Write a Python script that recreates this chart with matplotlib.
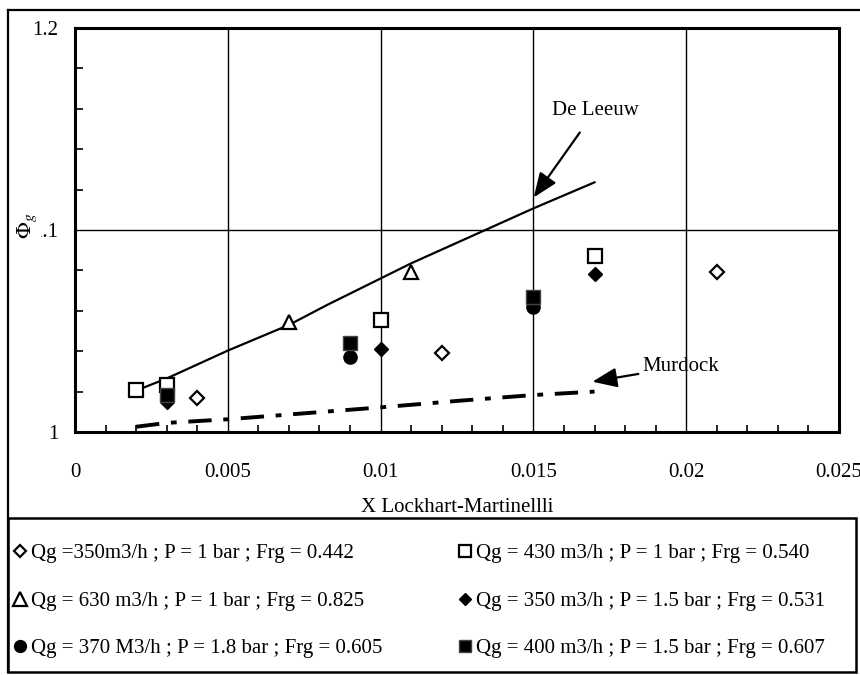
import matplotlib
matplotlib.use("Agg")
import matplotlib.pyplot as plt
from matplotlib.lines import Line2D
from matplotlib.patches import Rectangle
from matplotlib.ticker import MultipleLocator

plt.rcParams['font.family'] = ['Liberation Serif', 'DejaVu Serif']
plt.rcParams['mathtext.fontset'] = 'stix'

# ---------------- data ----------------
s1_x = [0.004, 0.012, 0.021]
s1_y = [1.0170, 1.0393, 1.0794]
s1_label = "Qg =350m3/h ; P = 1 bar ; Frg = 0.442"

s2_x = [0.002, 0.003, 0.010, 0.017]
s2_y = [1.0208, 1.0233, 1.0554, 1.0871]
s2_label = "Qg = 430 m3/h ; P = 1 bar ; Frg = 0.540"

s3_x = [0.007, 0.011]
s3_y = [1.0546, 1.0790]
s3_label = "Qg = 630 m3/h ; P = 1 bar ; Frg = 0.825"

s4_x = [0.003, 0.010, 0.017]
s4_y = [1.0150, 1.0413, 1.0782]
s4_label = "Qg = 350 m3/h ; P = 1.5 bar ; Frg = 0.531"

s5_x = [0.003, 0.009, 0.015]
s5_y = [1.0170, 1.0373, 1.0620]
s5_label = "Qg = 370 M3/h ; P = 1.8 bar ; Frg = 0.605"

s6_x = [0.003, 0.009, 0.015]
s6_y = [1.0185, 1.0442, 1.0666]
s6_label = "Qg = 400 m3/h ; P = 1.5 bar ; Frg = 0.607"

deleeuw_x = [0.002, 0.003, 0.005, 0.007, 0.00825, 0.010, 0.011, 0.015, 0.017]
deleeuw_y = [1.0205, 1.0265, 1.0403, 1.0530, 1.0629, 1.0760, 1.0835, 1.1107, 1.1236]

murdock_x = [0.002, 0.003, 0.005, 0.010, 0.0126, 0.015, 0.017]
murdock_y = [1.0026, 1.0045, 1.0063, 1.0122, 1.0155, 1.0183, 1.0200]

x_ticks = [0, 0.005, 0.01, 0.015, 0.02, 0.025]
x_ticklabels = ["0", "0.005", "0.01", "0.015", "0.02", "0.025"]
y_ticks = [1.0, 1.1, 1.2]
y_ticklabels = ["1", "1.1", "1.2"]

# ---------------- figure ----------------
W, H = 860, 675
fig = plt.figure(figsize=(W / 100, H / 100), dpi=100)

def fx(px):
    return px / W

def fy(py):
    return 1 - py / H

ax = fig.add_axes([fx(75), fy(432), fx(839) - fx(75), fy(28) - fy(432)])
ax.set_xlim(0, 0.025)
ax.set_ylim(1.0, 1.2)

ax.set_xticks(x_ticks)
ax.set_xticklabels(x_ticklabels)
ax.set_yticks(y_ticks)
ax.set_yticklabels(y_ticklabels)
ax.xaxis.set_minor_locator(MultipleLocator(0.001))
ax.yaxis.set_minor_locator(MultipleLocator(0.02))
ax.tick_params(axis='both', which='both', direction='in', top=False, right=False,
               labelsize=15, colors='black')
ax.tick_params(axis='x', which='major', pad=22, length=0)
ax.tick_params(axis='y', which='major', pad=12, length=0)
ax.tick_params(axis='x', which='minor', length=5, width=1.2)
ax.tick_params(axis='y', which='minor', length=6, width=1.2)
ax.grid(True, which='major', color='black', linewidth=1.0)
ax.set_axisbelow(True)
for sp in ax.spines.values():
    sp.set_linewidth(2.2)
    sp.set_color('black')

ax.set_xlabel("X Lockhart-Martinellli", fontsize=15)
ax.xaxis.set_label_coords(0.5, -0.163)

# correlation lines
ax.plot(deleeuw_x, deleeuw_y, color='black', linewidth=1.6, zorder=3)
ax.plot(murdock_x, murdock_y, color='black', linewidth=2.8,
        linestyle=(0, (6, 3, 1.5, 3)), zorder=3)

# data series
h1, = ax.plot(s1_x, s1_y, linestyle='none', marker='D', markersize=7.0,
              markerfacecolor='white', markeredgecolor='black', markeredgewidth=1.6,
              label=s1_label, zorder=4)
h2, = ax.plot(s2_x, s2_y, linestyle='none', marker='s', markersize=10.0,
              markerfacecolor='white', markeredgecolor='black', markeredgewidth=1.6,
              label=s2_label, zorder=4)
h3, = ax.plot(s3_x, s3_y, linestyle='none', marker='^', markersize=10.5,
              markerfacecolor='white', markeredgecolor='black', markeredgewidth=1.6,
              label=s3_label, zorder=4)
h4, = ax.plot(s4_x, s4_y, linestyle='none', marker='D', markersize=7.0,
              markerfacecolor='black', markeredgecolor='black', markeredgewidth=1.0,
              label=s4_label, zorder=4)
h5, = ax.plot(s5_x, s5_y, linestyle='none', marker='o', markersize=9.5,
              markerfacecolor='black', markeredgecolor='black', markeredgewidth=1.0,
              label=s5_label, zorder=4)
h6, = ax.plot(s6_x, s6_y, linestyle='none', marker='s', markersize=9.5,
              markerfacecolor='black', markeredgecolor='#444444', markeredgewidth=1.0,
              label=s6_label, zorder=4)

# annotations
ax.annotate("De Leeuw", xy=(0.01501, 1.1161), xytext=(0.01704, 1.1594),
            fontsize=15, ha='center', va='center',
            arrowprops=dict(arrowstyle='-|>,head_length=1.0,head_width=0.4',
                            color='black', lw=1.6, shrinkA=9, shrinkB=0))
ax.annotate("Murdock", xy=(0.01693, 1.0249), xytext=(0.01857, 1.0323),
            fontsize=15, ha='left', va='center',
            arrowprops=dict(arrowstyle='-|>,head_length=1.0,head_width=0.4',
                            color='black', lw=1.6, shrinkA=1, shrinkB=0))

# y label (overlapping the 1.1 tick label, as in the original)
fig.text(fx(27), fy(226), r"$\Phi_g$", rotation=90, fontsize=16,
         ha='center', va='center',
         bbox=dict(facecolor='white', edgecolor='none', pad=1.5))

# outer frame
fig.add_artist(Line2D([fx(8), fx(860)], [fy(10), fy(10)], color='black', lw=1.6))
fig.add_artist(Line2D([fx(8), fx(8)], [fy(10), fy(672)], color='black', lw=1.6))

# legend box
fig.add_artist(Rectangle((fx(8), fy(672)), fx(856) - fx(8), fy(518) - fy(672),
                         transform=fig.transFigure, facecolor='none',
                         edgecolor='black', linewidth=1.8))

leg_kw = dict(loc='center left', frameon=False, fontsize=15, borderpad=0,
              borderaxespad=0, handlelength=0.8, handletextpad=0.15,
              labelspacing=1.35, markerscale=0.9)
fig.legend(handles=[h1, h3, h5], bbox_to_anchor=(fx(11.5), fy(601)), **leg_kw)
fig.legend(handles=[h2, h4, h6], bbox_to_anchor=(fx(456.5), fy(601)), **leg_kw)

fig.savefig("out.png", dpi=100)
